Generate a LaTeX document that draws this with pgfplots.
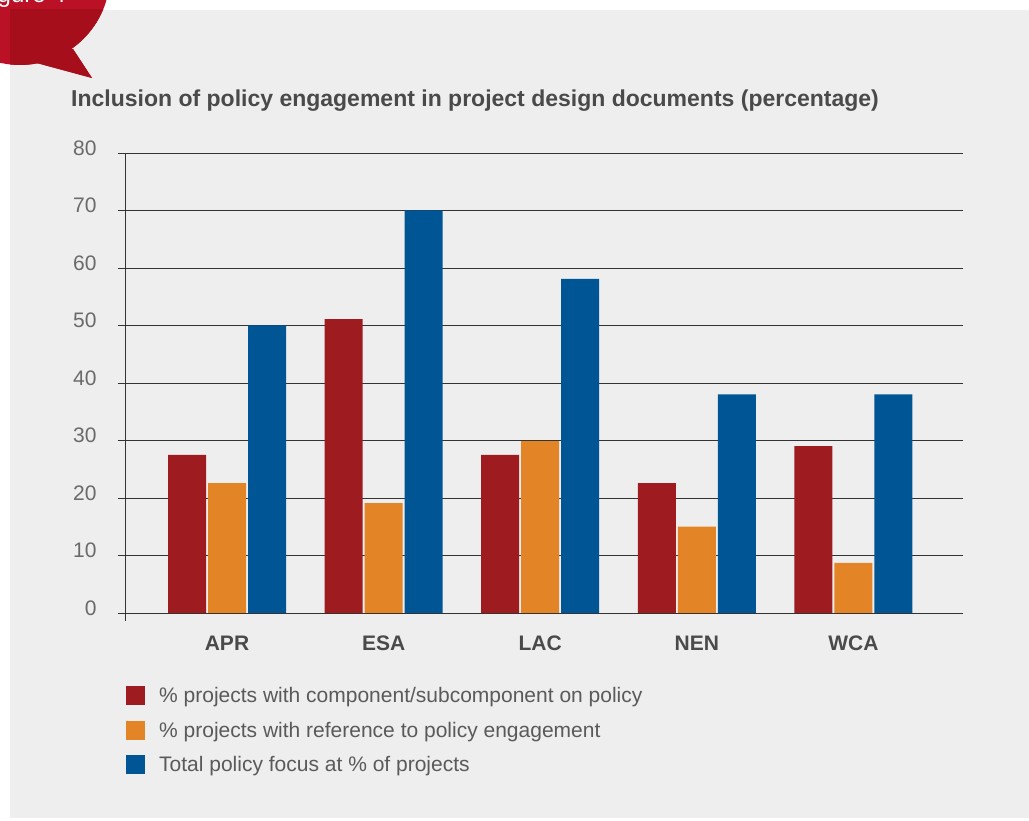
\documentclass[border=0pt]{standalone}
\usepackage{fontspec}
\setmainfont{Liberation Sans}
\usepackage{pgfplots}
\pgfplotsset{compat=1.18}
\definecolor{cred}{HTML}{9E1B20}
\definecolor{corange}{HTML}{E38526}
\definecolor{cblue}{HTML}{005695}
\definecolor{panel}{HTML}{EEEEEE}
\definecolor{gridc}{HTML}{333333}
\definecolor{ticktext}{HTML}{6A6A6A}
\definecolor{labtext}{HTML}{4A4A4A}
\definecolor{legtext}{HTML}{5A5A5A}
\definecolor{bubblelight}{HTML}{BA1126}
\definecolor{bubbledark}{HTML}{A60E1C}
\begin{document}
\begin{tikzpicture}[x=1pt,y=1pt]
\useasboundingbox (0,0) rectangle (1029,821);
\fill[white] (0,0) rectangle (1029,821);
\fill[panel] (10,3) rectangle (1029,811);
\begin{scope}
\clip (0,0) rectangle (1029,821);
\fill[bubblelight] (20,846) circle[radius=90];
\fill[bubblelight] (30,770) -- (33,759) -- (92,743) -- (73,772) -- cycle;
\begin{scope}
\clip (10,3) rectangle (1029,811);
\fill[bubbledark] (20,846) circle[radius=90];
\fill[bubbledark] (30,770) -- (33,759) -- (92,743) -- (73,772) -- cycle;
\end{scope}
\node[anchor=base east, text=white, font=\fontsize{24}{24}\selectfont, inner sep=0pt] at (66,818) {Figure 4};
\end{scope}
\node[anchor=base west, inner sep=0pt, text=labtext, font=\fontsize{23}{27}\selectfont\bfseries] at (71,714) {Inclusion of policy engagement in project design documents (percentage)};
\begin{axis}[
  at={(227pt,208pt)}, anchor=origin, scale only axis,
  width=837pt, height=460pt,
  xmin=-0.645, xmax=4.7, ymin=0, ymax=80,
  ybar=2pt, bar width=38pt,
  xtick={0,1,2,3,4}, xticklabels={APR,ESA,LAC,NEN,WCA},
  ytick={0,10,...,80},
  axis y line*=left, axis x line*=bottom,
  x axis line style={draw=none},
  y axis line style={-, draw=gridc, line width=1pt, shorten <=-8pt},
  ymajorgrids, major grid style={draw=gridc, line width=0.9pt},
  tick align=outside, major tick length=8pt,
  ytick style={draw=gridc, line width=0.9pt},
  xtick style={draw=none},
  /pgf/number format/assume math mode=true,
  yticklabel style={text=ticktext, font=\fontsize{21}{25}\selectfont, anchor=east, yshift=5pt, xshift=-18pt},
  xticklabel style={text=labtext, font=\fontsize{21}{25}\selectfont\bfseries, anchor=base, yshift=-30pt},
  legend style={at={(axis description cs:0,-0.1587)}, anchor=north west,
    draw=none, fill=none, inner sep=0pt, row sep=15.5pt,
    font=\fontsize{21}{25}\selectfont, text=legtext,
    nodes={inner sep=0pt},
    /tikz/every odd column/.append style={column sep=14pt}},
  legend cell align=left,
  legend image code/.code={\fill[#1] (0pt,-9.5pt) rectangle (19pt,9.5pt);},
]
\addplot[fill=cred, draw=none] coordinates {(0,27.5) (1,51.1) (2,27.5) (3,22.6) (4,29.0)};
\addplot[fill=corange, draw=none] coordinates {(0,22.6) (1,19.1) (2,29.9) (3,15.0) (4,8.7)};
\addplot[fill=cblue, draw=none] coordinates {(0,50) (1,70) (2,58.1) (3,38) (4,38)};
\legend{\% projects with component/subcomponent on policy, \% projects with reference to policy engagement, Total policy focus at \% of projects}
\end{axis}
\end{tikzpicture}
\end{document}
